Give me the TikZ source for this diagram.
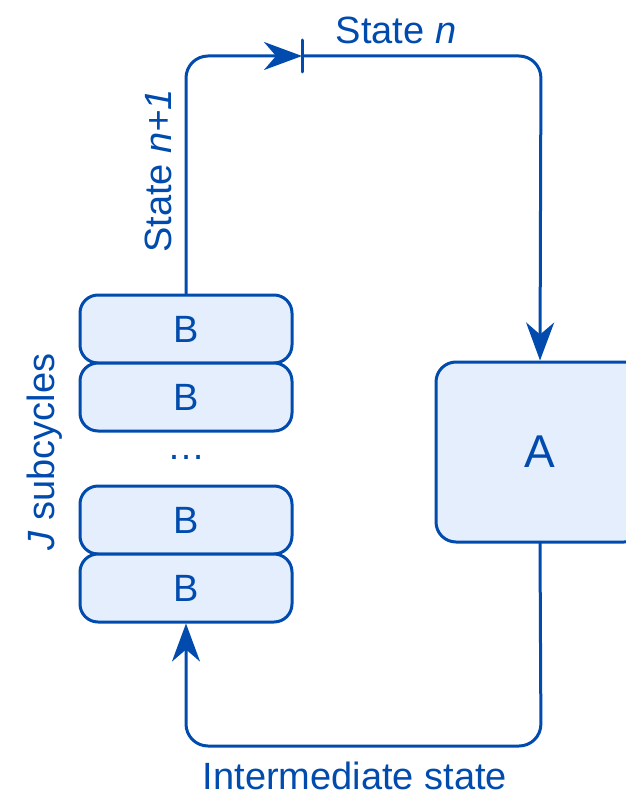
\documentclass[tikz,border=0pt]{standalone}
\usepackage{fontspec}
\setmainfont{Liberation Sans}
\usetikzlibrary{arrows.meta, positioning, calc}

\definecolor{cycblue}{RGB}{0,75,173}
\definecolor{cycfill}{RGB}{228,238,253}

\begin{document}
\begin{tikzpicture}[x=1pt, y=-1pt, >={Stealth[length=38pt, width=28pt, inset=12pt]}, line cap=round, line join=round]
	\def\lw{3pt}
	
	\tikzset{
		flow/.style={line width=\lw, cycblue, rounded corners=22pt},
		subbox/.style={draw=cycblue, fill=cycfill, line width=\lw, rounded corners=18pt, text=cycblue,
			minimum width=212pt, minimum height=68pt, font=\fontsize{38}{44}\selectfont},
		mainbox/.style={subbox, minimum width=208pt, minimum height=180pt, rounded corners=20pt,
			font=\fontsize{46}{52}\selectfont},
		lbl/.style={text=cycblue, font=\fontsize{38}{44}\selectfont, inner sep=0pt}
	}
	
	\useasboundingbox (0,0) rectangle (625,797);
	
	% subcycles
	\foreach \nm/\yy in {b1/329, b2/397, b3/520, b4/588}
		\node[subbox] (\nm) at (186,\yy) {B};
	\node[lbl] (dots) at (186,457) {\dots};
	
	\node[mainbox] (a) at (540,452) {A};
	
	% loop
	\coordinate (tick) at (302,56);
	\coordinate (topr) at (541,56);
	\coordinate (botr) at (541,746);
	
	\draw[flow,->] (b1.north) |- (tick);
	\draw[flow,->] (tick) -- (topr) -- (a.north);
	\draw[flow,->] (a.south) -- (botr) -| (b4.south);
	\draw[line width=\lw, cycblue] (tick) ++(0,-16) -- ++(0,32);
	
	% labels
	\node[lbl] (staten) at (396,30) {State \textit{n}};
	\node[lbl, rotate=90] (statenn) at (158,171) {State \textit{n+1}};
	\node[lbl, rotate=90] (jsub) at (45,452) {\textit{J} subcycles};
	\node[lbl] (inter) at (355,776) {Intermediate state};
	
\end{tikzpicture}
\end{document}
